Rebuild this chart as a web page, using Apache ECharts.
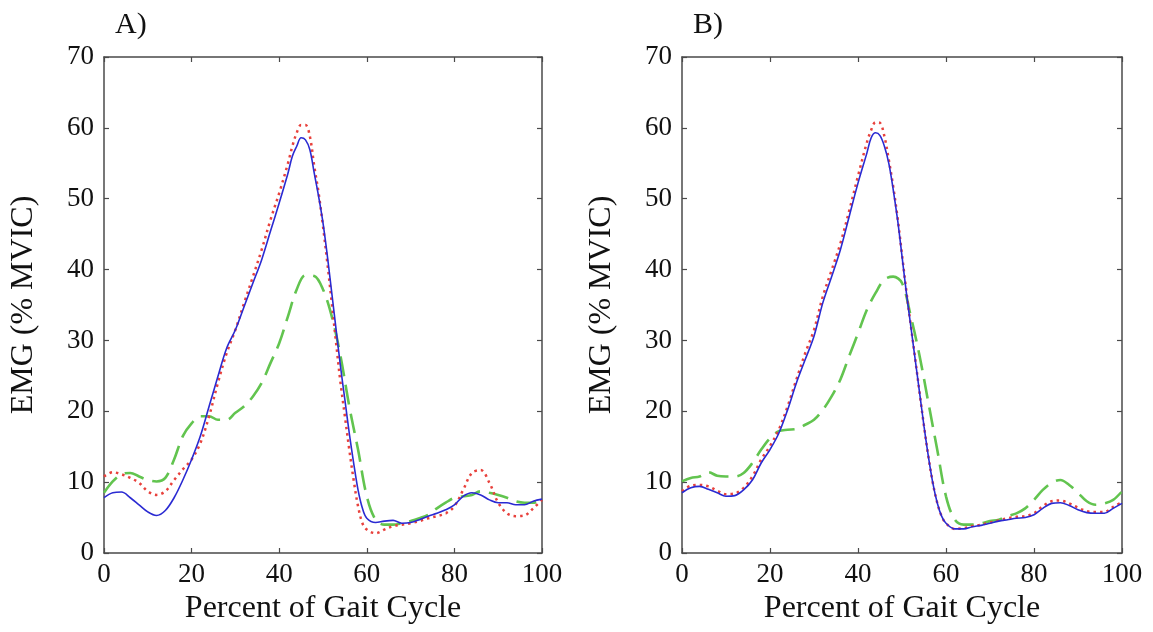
<!DOCTYPE html>
<html>
<head>
<meta charset="utf-8">
<script src="https://cdn.jsdelivr.net/npm/echarts@6/dist/echarts.min.js"></script>
<style>html,body{margin:0;padding:0;background:#fff;}#c{width:1153px;height:632px;}</style>
</head>
<body>
<div id="c"></div>
<script>
// x positions (percent of gait cycle)
const xFine = [0,2,4,6,8,10,12,14,16,18,20,22,24,26,28,30,32,34,36,38,40,
  42,43,44,45,46,47,48,49,50,51,52,53,54,55,56,57,58,59,60,
  62,64,66,68,70,72,74,76,78,80,82,84,86,88,90,92,94,96,98,100];
const xEven = [0,2,4,6,8,10,12,14,16,18,20,22,24,26,28,30,32,34,36,38,40,
  42,44,46,48,50,52,54,56,58,60,
  62,64,66,68,70,72,74,76,78,80,82,84,86,88,90,92,94,96,98,100];

// Panel A
const aBlue = [7.8,8.5,8.6,7.8,6.8,5.8,5.3,6.0,7.8,10.3,13.2,16.5,20.7,24.9,28.9,31.5,34.8,38.1,41.4,45.4,49.4,
  53.6,56.0,57.4,58.6,58.3,56.9,53.6,50.3,46.6,41.9,36.7,31.5,26.3,21.6,16.9,12.7,8.9,6.3,4.9,
  4.3,4.5,4.6,4.2,4.3,4.7,5.2,5.6,6.1,6.8,8.0,8.5,8.2,7.5,7.1,7.1,6.8,6.8,7.3,7.6];
const aRed = [10.8,11.4,11.1,10.6,9.9,8.7,8.2,8.7,10.3,11.8,13.2,15.5,19.3,24.0,28.2,31.5,35.3,39.0,42.8,47.0,50.8,
  55.0,57.4,59.3,60.4,60.4,58.8,54.6,50.8,46.1,40.9,35.3,29.6,24.0,19.3,14.6,10.3,6.6,4.2,3.3,
  2.8,3.3,3.8,4.0,4.2,4.5,4.9,5.2,5.6,6.6,8.9,11.3,11.7,9.9,7.1,5.6,5.2,5.3,6.3,7.5];
const aGreen = [8.5,10.1,11.1,11.3,10.8,10.3,10.1,10.6,13.2,16.5,18.3,19.3,19.3,18.8,18.8,19.8,20.7,22.1,24.0,26.8,29.6,
  33.4,37.2,39.2,39.1,37.2,33.4,27.8,20.7,14.6,8.0,
  4.7,4.0,4.0,4.2,4.5,4.9,5.4,6.3,7.1,7.8,8.0,8.2,8.7,8.5,8.2,7.8,7.3,7.1,7.1,7.5];

// Panel B
const bBlue = [8.5,9.2,9.4,9.0,8.5,8.0,8.1,8.9,10.3,12.7,14.6,16.9,20.2,24.0,27.3,30.6,35.3,39.0,42.8,47.5,52.2,
  56.4,58.6,59.3,58.9,57.4,55.0,51.3,47.0,41.9,36.7,32.0,27.3,22.6,17.9,13.6,9.9,7.1,5.2,4.2,
  3.4,3.4,3.7,3.9,4.2,4.5,4.7,4.9,5.0,5.4,6.3,7.0,7.1,6.7,6.1,5.7,5.6,5.6,6.3,7.0];
const bRed = [8.7,9.5,9.6,9.4,8.8,8.3,8.4,9.2,10.8,13.2,15.1,17.4,20.7,24.5,28.2,31.5,36.2,39.9,43.7,48.3,53.2,
  57.9,59.7,60.8,60.7,58.8,55.5,51.7,47.3,42.1,36.9,32.1,27.4,22.6,17.9,13.6,9.9,7.1,5.2,4.2,
  3.4,3.5,3.8,4.0,4.3,4.6,4.9,5.1,5.2,5.6,6.6,7.3,7.4,7.0,6.4,5.9,5.8,5.8,6.5,7.2];
const bGreen = [10.1,10.6,10.8,11.4,10.9,10.8,10.8,11.3,12.7,14.6,16.2,17.2,17.4,17.5,18.1,18.8,20.2,22.1,24.5,27.8,31.0,
  34.3,36.7,38.6,39.0,38.1,33.4,27.8,21.2,14.6,8.0,
  4.7,4.0,4.0,4.2,4.5,4.7,5.2,5.6,6.3,7.5,8.9,9.9,10.3,9.6,8.5,7.3,6.8,7.0,7.5,8.7];

const panelTitles = ['A)', 'B)'];
const xTitle = 'Percent of Gait Cycle';
const yTitle = 'EMG (% MVIC)';

const FONT = '"Liberation Serif", "Times New Roman", serif';
const AX = '#4a4a4a';
const pair = (xs, ys) => xs.map((x, i) => [x, ys[i]]);

const grids = [
  {left: 104, right: 611, top: 57, bottom: 79},
  {left: 682, right: 31, top: 57, bottom: 79}
];

const xAxes = [], yAxes = [], series = [];
grids.forEach((g, gi) => {
  const common = {
    gridIndex: gi, type: 'value', min: 0,
    axisLine: {show: true, onZero: false, lineStyle: {color: AX, width: 1.5}},
    axisTick: {show: true, inside: true, length: 5, lineStyle: {color: AX, width: 1.2}},
    splitLine: {show: false}
  };
  xAxes.push(Object.assign({}, common, {
    position: 'bottom', max: 100, interval: 20,
    name: xTitle, nameLocation: 'middle', nameGap: 35,
    nameTextStyle: {fontFamily: FONT, fontSize: 32, color: '#111'},
    axisLabel: {fontFamily: FONT, fontSize: 27, color: '#111', margin: 8}
  }));
  xAxes.push(Object.assign({}, common, {
    position: 'top', max: 100, interval: 20, axisLabel: {show: false}
  }));
  yAxes.push(Object.assign({}, common, {
    position: 'left', max: 70, interval: 10,
    name: yTitle, nameLocation: 'middle', nameGap: 64,
    nameTextStyle: {fontFamily: FONT, fontSize: 32, color: '#111'},
    axisLabel: {fontFamily: FONT, fontSize: 27, color: '#111', margin: 10}
  }));
  yAxes.push(Object.assign({}, common, {
    position: 'right', max: 70, interval: 10, axisLabel: {show: false}
  }));
});

const panels = [
  {blue: aBlue, red: aRed, green: aGreen},
  {blue: bBlue, red: bRed, green: bGreen}
];
panels.forEach((p, gi) => {
  const base = {type: 'line', xAxisIndex: gi * 2, yAxisIndex: gi * 2, symbol: 'none', smooth: 0.35, silent: true};
  series.push(Object.assign({}, base, {
    name: 'green' + gi, data: pair(xEven, p.green),
    lineStyle: {color: '#62c44f', width: 2.6, type: [20, 9]}
  }));
  series.push(Object.assign({}, base, {
    name: 'red' + gi, data: pair(xFine, p.red),
    lineStyle: {color: '#e8413c', width: 2.5, type: [2.5, 4]}
  }));
  series.push(Object.assign({}, base, {
    name: 'blue' + gi, data: pair(xFine, p.blue),
    lineStyle: {color: '#2a2ad2', width: 1.6}
  }));
});

const chart = echarts.init(document.getElementById('c'), null, {renderer: 'canvas'});
chart.setOption({
  animation: false,
  backgroundColor: '#fff',
  title: [
    {text: panelTitles[0], left: 110, top: 5, textStyle: {fontFamily: FONT, fontSize: 30, fontWeight: 'normal', color: '#111'}},
    {text: panelTitles[1], left: 688, top: 5, textStyle: {fontFamily: FONT, fontSize: 30, fontWeight: 'normal', color: '#111'}}
  ],
  grid: grids,
  xAxis: xAxes,
  yAxis: yAxes,
  series: series
});
</script>
</body>
</html>
